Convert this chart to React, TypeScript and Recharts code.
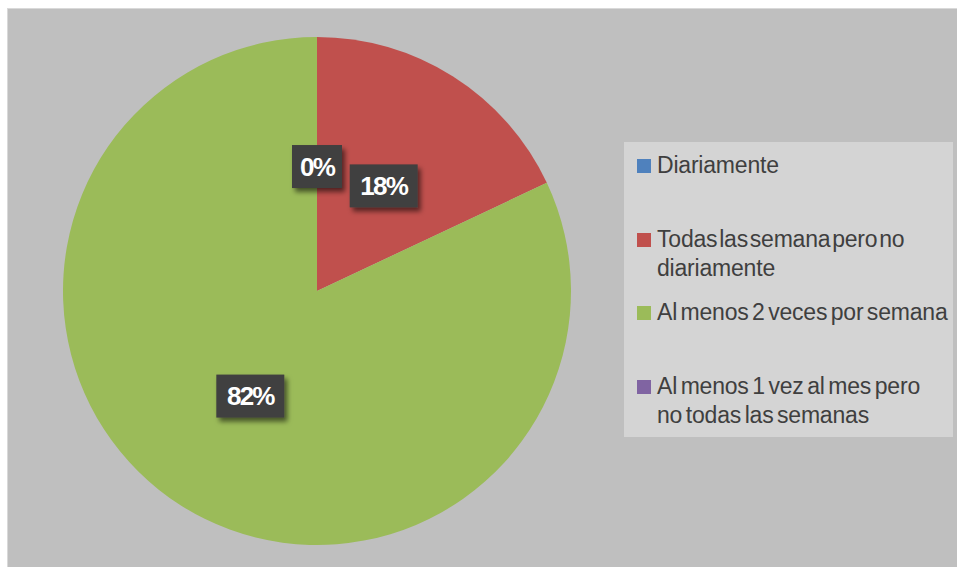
import { PieChart, Pie, Cell, Legend } from 'recharts'

const CATEGORIES = [
  'Diariamente',
  'Todas las semana pero no diariamente',
  'Al menos 2 veces por semana',
  'Al menos 1 vez al mes pero no todas las semanas',
]
const VALUES = [0, 18, 82, 0]
const COLORS = ['#4f81bd', '#c0504d', '#9bbb59', '#8064a2']

const data = CATEGORIES.map((name, i) => ({ name, value: VALUES[i] }))

// espaciado y ancho de cada texto de la leyenda (el original está comprimido)
const LEGEND_TEXT = [
  { wordSpacing: -2.7, width: 292 },
  { wordSpacing: -4.4, width: 292 },
  { wordSpacing: -2.7, width: 300 },
  { wordSpacing: -2.6, width: 280 },
]

const RAD = Math.PI / 180

// etiqueta oscura con sombra, como en Excel
function renderLabel(props: any) {
  const { cx, cy, midAngle, outerRadius, percent, index } = props
  if (percent === 0 && index !== 0) return null
  const r = outerRadius * 0.49
  const x = cx + r * Math.cos(-midAngle * RAD)
  const y = cy + r * Math.sin(-midAngle * RAD)
  const text = `${Math.round(percent * 100)}%`
  const w = text.length > 2 ? 68 : 50
  const h = 43
  return (
    <g>
      <rect x={x - w / 2} y={y - h / 2} width={w} height={h} fill="#404040" filter="url(#lblShadow)" />
      <text x={x} y={y} dy={9} textAnchor="middle" fill="#ffffff" fontSize={26} fontWeight="bold"
        letterSpacing={-1.8} fontFamily="'Liberation Sans', Arial, sans-serif">
        {text}
      </text>
    </g>
  )
}

function LegendBox({ payload }: any) {
  const items = [...(payload || [])].sort(
    (a: any, b: any) => CATEGORIES.indexOf(a.value) - CATEGORIES.indexOf(b.value),
  )
  return (
    <div style={{ background: '#d4d4d4', width: 329, height: 295, boxSizing: 'border-box', padding: '9px 0 0 13px' }}>
      {items.map((p: any, i: number) => (
        <div key={i} style={{ display: 'flex', alignItems: 'flex-start', height: i % 2 === 0 ? 74 : 73 }}>
          <div style={{ width: 14, height: 14, background: p.color, marginTop: 8, marginRight: 6, flexShrink: 0 }} />
          <div style={{
            width: LEGEND_TEXT[i].width, color: '#3f3f3f', fontSize: 23, lineHeight: '29px', letterSpacing: -0.2,
            wordSpacing: LEGEND_TEXT[i].wordSpacing, fontFamily: "'Liberation Sans', Arial, sans-serif",
          }}>
            {p.value}
          </div>
        </div>
      ))}
    </div>
  )
}

export default function App() {
  return (
    <div style={{ position: 'absolute', left: 0, top: 0, width: 957, height: 567, background: '#fff' }}>
      <div style={{
        position: 'absolute', left: 7, top: 8, width: 950, height: 559, background: '#bfbfbf',
        borderLeft: '1px solid #d9d9d9', borderTop: '1px solid #d9d9d9', boxSizing: 'border-box',
      }} />
      <div style={{ position: 'absolute', left: 0, top: 0 }}>
        <PieChart width={957} height={567} margin={{ top: 0, right: 0, bottom: 0, left: 0 }}>
          <defs>
            <filter id="lblShadow" x="-30%" y="-30%" width="160%" height="160%">
              <feDropShadow dx={3} dy={4} stdDeviation={2.5} floodColor="#000" floodOpacity={0.55} />
            </filter>
          </defs>
          <Pie
            data={data}
            dataKey="value"
            nameKey="name"
            cx={317}
            cy={291}
            outerRadius={254}
            startAngle={90}
            endAngle={-270}
            stroke="none"
            labelLine={false}
            label={renderLabel}
            isAnimationActive={false}
          >
            {data.map((_, i) => (
              <Cell key={i} fill={COLORS[i]} />
            ))}
          </Pie>
          <Legend
            itemSorter={null}
            content={<LegendBox />}
            wrapperStyle={{ position: 'absolute', left: 624, top: 142, width: 329, height: 295 }}
          />
        </PieChart>
      </div>
    </div>
  )
}
